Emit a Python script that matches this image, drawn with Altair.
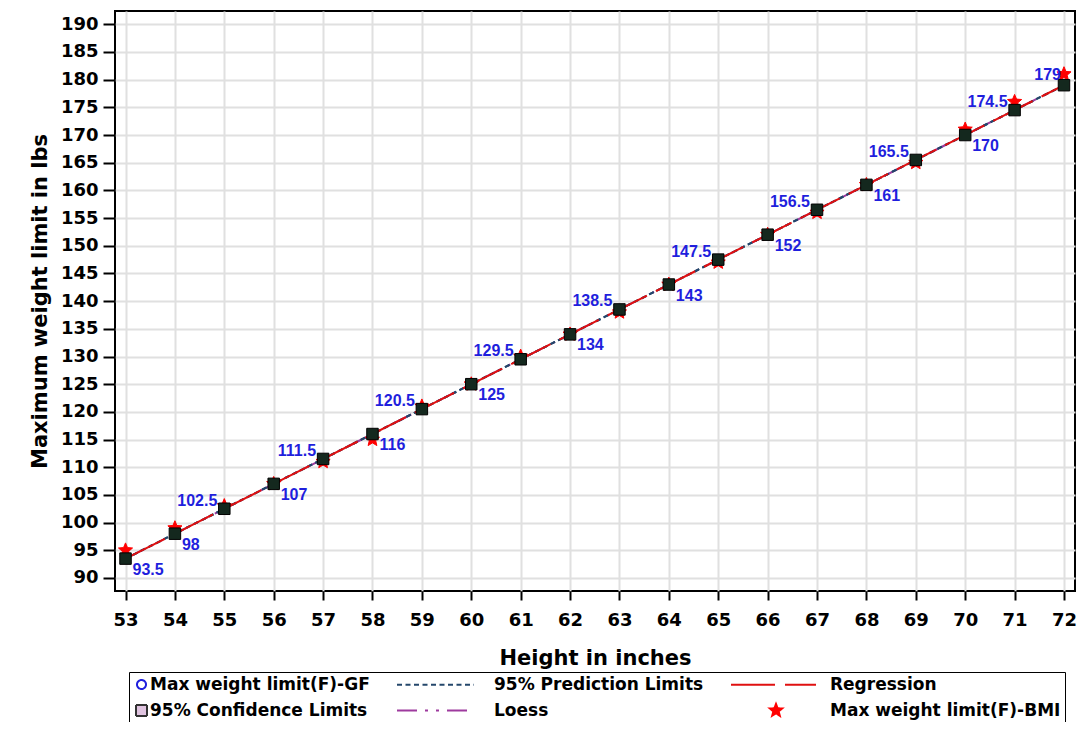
import math
import numpy as np
import pandas as pd
import altair as alt

# ---------------- data ----------------
heights = list(range(53, 73))
gf_weights = [93.5, 98, 102.5, 107, 111.5, 116, 120.5, 125, 129.5, 134,
              138.5, 143, 147.5, 152, 156.5, 161, 165.5, 170, 174.5, 179]
bmi_weights = [95, 99, 103, 107, 111, 115, 121, 125, 130, 134,
               138, 143, 147, 152, 156, 161, 165, 171, 176, 181]
gf_labels = ["93.5", "98", "102.5", "107", "111.5", "116", "120.5", "125", "129.5", "134",
             "138.5", "143", "147.5", "152", "156.5", "161", "165.5", "170", "174.5", "179"]
label_side = ["br", "br", "al", "br", "al", "br", "al", "br", "al", "br",
              "al", "br", "al", "br", "al", "br", "al", "br", "al", "l"]
x_ticks = heights
y_ticks = list(range(90, 191, 5))

S_GF = "Max weight limit(F)-GF"
S_PRED = "95% Prediction Limits"
S_REG = "Regression"
S_CONF = "95% Confidence Limits"
S_LOESS = "Loess"
S_BMI = "Max weight limit(F)-BMI"
# legend is filled column by column (2 rows x 3 columns)
series_order = [S_GF, S_CONF, S_PRED, S_LOESS, S_REG, S_BMI]

# ---------------- fit statistics (from the GF series) ----------------
h = np.array(heights, dtype=float)
w = np.array(gf_weights, dtype=float)
n = len(h)
b1, b0 = np.polyfit(h, w, 1)
fit = b0 + b1 * h
resid = w - fit
s = math.sqrt(max(float(np.sum(resid ** 2)) / (n - 2), 0.0))
t975 = 2.1009  # t quantile, 18 df
sxx = float(np.sum((h - h.mean()) ** 2))
se_mean = s * np.sqrt(1.0 / n + (h - h.mean()) ** 2 / sxx)
se_pred = s * np.sqrt(1.0 + 1.0 / n + (h - h.mean()) ** 2 / sxx)

df_pts = pd.DataFrame({"h": heights, "w": gf_weights, "bmi": bmi_weights,
                       "lab": gf_labels, "side": label_side})
df_fit = pd.DataFrame({"h": heights,
                       "clo": fit - t975 * se_mean, "chi": fit + t975 * se_mean,
                       "plo": fit - t975 * se_pred, "phi": fit + t975 * se_pred})

# ---------------- symbol shapes ----------------
def star_path(cx, r_out, r_in):
    pts = []
    for k in range(10):
        a = math.radians(-90 + 36 * k)
        r = r_out if k % 2 == 0 else r_in
        pts.append((cx + r * math.cos(a), r * math.sin(a)))
    return "M" + "L".join(f"{x:.3f},{y:.3f}" for x, y in pts) + "Z"

STAR_PLOT = star_path(0, 1.0, 0.45)
LEG_STAR = star_path(-9.1, 1.3, 0.55)
CIRCLE = "M0.9,0A0.9,0.9,0,1,1,-0.9,0A0.9,0.9,0,1,1,0.9,0Z"
SQUARE = "M-1.1,-1.1L1.1,-1.1L1.1,1.1L-1.1,1.1Z"
LINE_A = "M-17.7,0L-2.3,0"
LINE_R = "M-18.1,0L-1.1,0"

#              GF      CONF    PRED    LOESS   REG     BMI
shape_range = [CIRCLE, SQUARE, LINE_A, LINE_A, LINE_R, LEG_STAR]
fill_range = ["transparent", "#e0c4e0", "transparent", "transparent", "transparent", "#ff0000"]
stroke_range = ["#1f1fdd", "#333333", "#24476b", "#9e3a9e", "#e01010", "#ff0000"]
dash_range = [[1, 0], [1, 0], [5, 3.5], [20, 8, 3, 8, 3, 8], [44, 10], [1, 0]]

legend = alt.Legend(
    title=None, orient="none", legendX=14, legendY=661, columns=3,
    columnPadding=23, rowPadding=7, padding=4, strokeColor="black",
    symbolSize=100, symbolStrokeWidth=2, symbolOpacity=1,
    labelOffset=0, labelLimit=500,
    labelFont="DejaVu Sans", labelFontWeight="bold", labelFontSize=17,
    labelColor="black",
)

def enc(channel, rng):
    return channel("series:N", scale=alt.Scale(domain=series_order, range=rng), legend=legend)

x_scale = alt.Scale(domain=[52.787, 72.223], nice=False, zero=False)
y_scale = alt.Scale(domain=[87.65, 192.4], nice=False, zero=False)
x_axis = alt.Axis(values=x_ticks, title="Height in inches", tickSize=9,
                  labelPadding=11, titlePadding=18, format="d", labelOverlap=False)
y_axis = alt.Axis(values=y_ticks, title="Maximum weight limit in lbs", tickSize=12,
                  labelPadding=5, titlePadding=10, format="d", labelOverlap=False)

def X(field="h"):
    return alt.X(f"{field}:Q", scale=x_scale, axis=x_axis)

def Y(field="w"):
    return alt.Y(f"{field}:Q", scale=y_scale, axis=y_axis)

base_pts = alt.Chart(df_pts)
base_fit = alt.Chart(df_fit)

band = base_fit.mark_area(opacity=1).transform_calculate(series=f"'{S_CONF}'").encode(
    x=X(), y=Y("clo"), y2="chi:Q", fill=enc(alt.Fill, fill_range))

pred = base_fit.transform_fold(["plo", "phi"], as_=["bound", "w"]).transform_calculate(
    series=f"'{S_PRED}'").mark_line(strokeWidth=2).encode(
    x=X(), y=Y(), detail="bound:N",
    stroke=enc(alt.Stroke, stroke_range), strokeDash=enc(alt.StrokeDash, dash_range))

loess = base_pts.transform_loess("h", "w", bandwidth=0.5).transform_calculate(
    series=f"'{S_LOESS}'").mark_line(strokeWidth=2).encode(
    x=X(), y=Y(),
    stroke=enc(alt.Stroke, stroke_range), strokeDash=enc(alt.StrokeDash, dash_range))

reg = base_pts.transform_regression("h", "w", method="linear", extent=[53, 72]).transform_calculate(
    series=f"'{S_REG}'").mark_line(strokeWidth=2).encode(
    x=X(), y=Y(),
    stroke=enc(alt.Stroke, stroke_range), strokeDash=enc(alt.StrokeDash, dash_range))

stars = base_pts.transform_calculate(series=f"'{S_BMI}'").mark_point(
    shape=STAR_PLOT, filled=True, size=220, opacity=1, strokeWidth=1).encode(
    x=X(), y=Y("bmi"),
    fill=enc(alt.Fill, fill_range), stroke=enc(alt.Stroke, stroke_range))

gf_circles = base_pts.transform_calculate(series=f"'{S_GF}'").mark_point(
    size=30, opacity=1, strokeWidth=1.5).encode(
    x=X(), y=Y(), shape=enc(alt.Shape, shape_range), stroke=enc(alt.Stroke, stroke_range))

squares = base_pts.mark_square(size=132, fill="#14281e", stroke="black",
                               strokeWidth=1, opacity=1).encode(x=X(), y=Y())

txt = dict(font="Liberation Sans", fontWeight="bold", fontSize=16, color="#1f1fdd",
           baseline="middle")
lab_br = base_pts.transform_filter("datum.side === 'br'").mark_text(
    align="left", dx=7, dy=11, **txt).encode(x=X(), y=Y(), text="lab:N")
lab_al = base_pts.transform_filter("datum.side === 'al'").mark_text(
    align="right", dx=-7, dy=-8, **txt).encode(x=X(), y=Y(), text="lab:N")
lab_l = base_pts.transform_filter("datum.side === 'l'").mark_text(
    align="right", dx=-3, dy=-10, **txt).encode(x=X(), y=Y(), text="lab:N")

chart = alt.layer(band, loess, pred, reg, stars, gf_circles, squares,
                  lab_br, lab_al, lab_l).properties(
    width=960, height=580,
    autosize=alt.AutoSizeParams(type="none"),
    padding={"left": 107, "top": 3, "right": 2, "bottom": 131},
).configure_view(stroke="black", strokeWidth=2).configure_axis(
    domain=False, grid=True, gridColor="#e0e0e0", gridWidth=2,
    tickColor="black", tickWidth=2, labelOverlap=False,
    labelFont="DejaVu Sans", labelFontWeight="bold", labelFontSize=18, labelColor="black",
    titleFont="DejaVu Sans", titleFontWeight="bold", titleFontSize=21, titleColor="black",
)

chart.save("out.html", embed_options={"renderer": "svg", "actions": False})
